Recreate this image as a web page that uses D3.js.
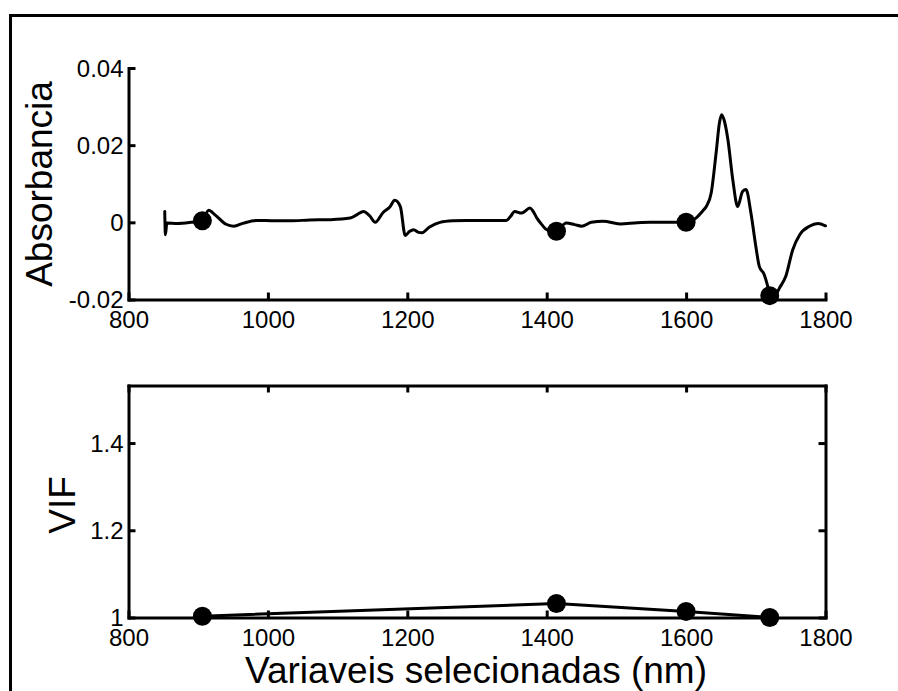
<!DOCTYPE html>
<html>
<head>
<meta charset="utf-8">
<script src="https://cdn.jsdelivr.net/npm/d3@7"></script>
<style>
  html, body { margin: 0; padding: 0; background: #fff; }
  svg text { font-family: "Liberation Sans", Arial, Helvetica, sans-serif; fill: #000; }
</style>
</head>
<body>
<svg id="chart" width="898" height="691"></svg>
<script>
// Difference spectrum (nm, absorbance)
const wavelength = [852, 853, 855, 870, 890, 906, 915, 925, 940, 951, 965, 984, 1010, 1032, 1060, 1090,
  1118, 1128, 1137, 1146, 1154, 1165, 1175, 1182, 1190, 1197, 1203, 1209, 1216, 1221, 1232, 1247,
  1265, 1285, 1310, 1342, 1348, 1354, 1364, 1376, 1380, 1386, 1393, 1400, 1414, 1428, 1440, 1450,
  1464, 1481, 1505, 1530, 1548, 1575, 1600, 1614, 1624, 1629, 1636, 1643, 1648, 1651, 1655, 1660,
  1667, 1674, 1681, 1686, 1693, 1700, 1705, 1712, 1717, 1720, 1726, 1734, 1743, 1753, 1763, 1777,
  1789, 1800];
const absorbance = [0.0028, -0.0032, -0.0002, -0.0003, 0.0000, 0.0004, 0.0031, 0.0018, -0.0005, -0.0010,
  -0.0002, 0.0005, 0.0004, 0.0004, 0.0006, 0.0007, 0.0011, 0.0020, 0.0028, 0.0017, 0.0000, 0.0025,
  0.0040, 0.0057, 0.0041, -0.0034, -0.0024, -0.0019, -0.0026, -0.0027, -0.0012, 0.0000, 0.0004,
  0.0005, 0.0005, 0.0005, 0.0015, 0.0028, 0.0024, 0.0037, 0.0030, 0.0011, -0.0006, -0.0019, -0.0023,
  -0.0002, -0.0006, -0.0010, 0.0000, 0.0003, -0.0004, -0.0001, 0.0000, 0.0000, 0.0000, 0.0011, 0.0030,
  0.0041, 0.0076, 0.0179, 0.0260, 0.0279, 0.0262, 0.0214, 0.0110, 0.0041, 0.0080, 0.0085, 0.0024,
  -0.0062, -0.0114, -0.0135, -0.0165, -0.0190, -0.0193, -0.0170, -0.0140, -0.0071, -0.0032, -0.0010,
  -0.0003, -0.0009];

// Selected variables
const selectedNm = [906, 1414, 1600, 1720];
const selectedAbs = [0.0004, -0.0023, 0.0000, -0.0190];
const selectedVIF = [1.003, 1.032, 1.014, 1.000];

// Axis ticks
const xTicks = [800, 1000, 1200, 1400, 1600, 1800];
const absTicks = [-0.02, 0, 0.02, 0.04];
const absTickLabels = ["-0.02", "0", "0.02", "0.04"];
const vifTicks = [1, 1.2, 1.4];
const vifTickLabels = ["1", "1.2", "1.4"];

const svg = d3.select("#chart");
const FS = 24, TICK = 7, LW = 3;

// outer figure frame
svg.append("rect")
  .attr("x", 10.5).attr("y", 15.5).attr("width", 1000).attr("height", 1000)
  .attr("fill", "none").attr("stroke", "#000").attr("stroke-width", 3);

const x = d3.scaleLinear().domain([800, 1800]).range([128.5, 825.5]);
const yTop = d3.scaleLinear().domain([-0.02, 0.04]).range([299.5, 68]);
const yBot = d3.scaleLinear().domain([1, 1.532]).range([617.5, 385.5]);

function styleAxis(g, labels) {
  g.selectAll(".domain").attr("stroke", "#000").attr("stroke-width", LW).attr("stroke-linecap", "square");
  g.selectAll(".tick line").attr("stroke", "#000").attr("stroke-width", LW);
  g.selectAll(".tick text").attr("font-size", FS).attr("fill", "#000")
    .attr("font-family", "'Liberation Sans', Arial, sans-serif");
  g.attr("font-family", null).attr("font-size", null);
}

// ---------- top panel: spectrum ----------
const gTop = svg.append("g");
const axB1 = gTop.append("g").attr("transform", `translate(0,${yTop(-0.02)})`)
  .call(d3.axisBottom(x).tickValues(xTicks).tickFormat(d3.format("d"))
    .tickSizeInner(-TICK).tickSizeOuter(0).tickPadding(11.5));
styleAxis(axB1);
const axL1 = gTop.append("g").attr("transform", `translate(${x(800)},0)`)
  .call(d3.axisLeft(yTop).tickValues(absTicks).tickFormat((d, i) => absTickLabels[i])
    .tickSizeInner(-TICK).tickSizeOuter(0).tickPadding(5));
styleAxis(axL1);
axL1.selectAll(".tick text").attr("dy", "0.35em");

const line1 = d3.line().x((d, i) => x(wavelength[i])).y(d => yTop(d)).curve(d3.curveMonotoneX);
gTop.append("path").datum(absorbance).attr("d", line1)
  .attr("fill", "none").attr("stroke", "#000").attr("stroke-width", LW)
  .attr("stroke-linejoin", "round").attr("stroke-linecap", "round");
gTop.selectAll("circle.sel").data(selectedNm).enter().append("circle")
  .attr("cx", d => x(d)).attr("cy", (d, i) => yTop(selectedAbs[i])).attr("r", 9.5).attr("fill", "#000");

svg.append("text").attr("transform", "translate(52,184) rotate(-90)")
  .attr("text-anchor", "middle").attr("font-size", 37).text("Absorbancia");

// ---------- bottom panel: VIF ----------
const gBot = svg.append("g");
const axB2 = gBot.append("g").attr("transform", `translate(0,${yBot.range()[0]})`)
  .call(d3.axisBottom(x).tickValues(xTicks).tickFormat(d3.format("d"))
    .tickSizeInner(-TICK).tickSizeOuter(0).tickPadding(11.5));
styleAxis(axB2);
const axT2 = gBot.append("g").attr("transform", `translate(0,${yBot.range()[1]})`)
  .call(d3.axisTop(x).tickValues(xTicks).tickFormat("")
    .tickSizeInner(-TICK).tickSizeOuter(0));
styleAxis(axT2);
const axL2 = gBot.append("g").attr("transform", `translate(${x(800)},0)`)
  .call(d3.axisLeft(yBot).tickValues(vifTicks).tickFormat((d, i) => vifTickLabels[i])
    .tickSizeInner(-TICK).tickSizeOuter(0).tickPadding(5));
styleAxis(axL2);
axL2.selectAll(".tick text").attr("dy", "0.35em");
const axR2 = gBot.append("g").attr("transform", `translate(${x(1800)},0)`)
  .call(d3.axisRight(yBot).tickValues(vifTicks).tickFormat("")
    .tickSizeInner(-TICK).tickSizeOuter(0));
styleAxis(axR2);

const line2 = d3.line().x((d, i) => x(selectedNm[i])).y(d => yBot(d));
gBot.append("path").datum(selectedVIF).attr("d", line2)
  .attr("fill", "none").attr("stroke", "#000").attr("stroke-width", LW).attr("stroke-linejoin", "round");
gBot.selectAll("circle.vif").data(selectedVIF).enter().append("circle")
  .attr("cx", (d, i) => x(selectedNm[i])).attr("cy", d => yBot(d)).attr("r", 9.5).attr("fill", "#000");

svg.append("text").attr("transform", "translate(75,505) rotate(-90)")
  .attr("text-anchor", "middle").attr("font-size", 37).text("VIF");

svg.append("text").attr("x", 476).attr("y", 683)
  .attr("text-anchor", "middle").attr("font-size", 37).text("Variaveis selecionadas (nm)");
</script>
</body>
</html>
